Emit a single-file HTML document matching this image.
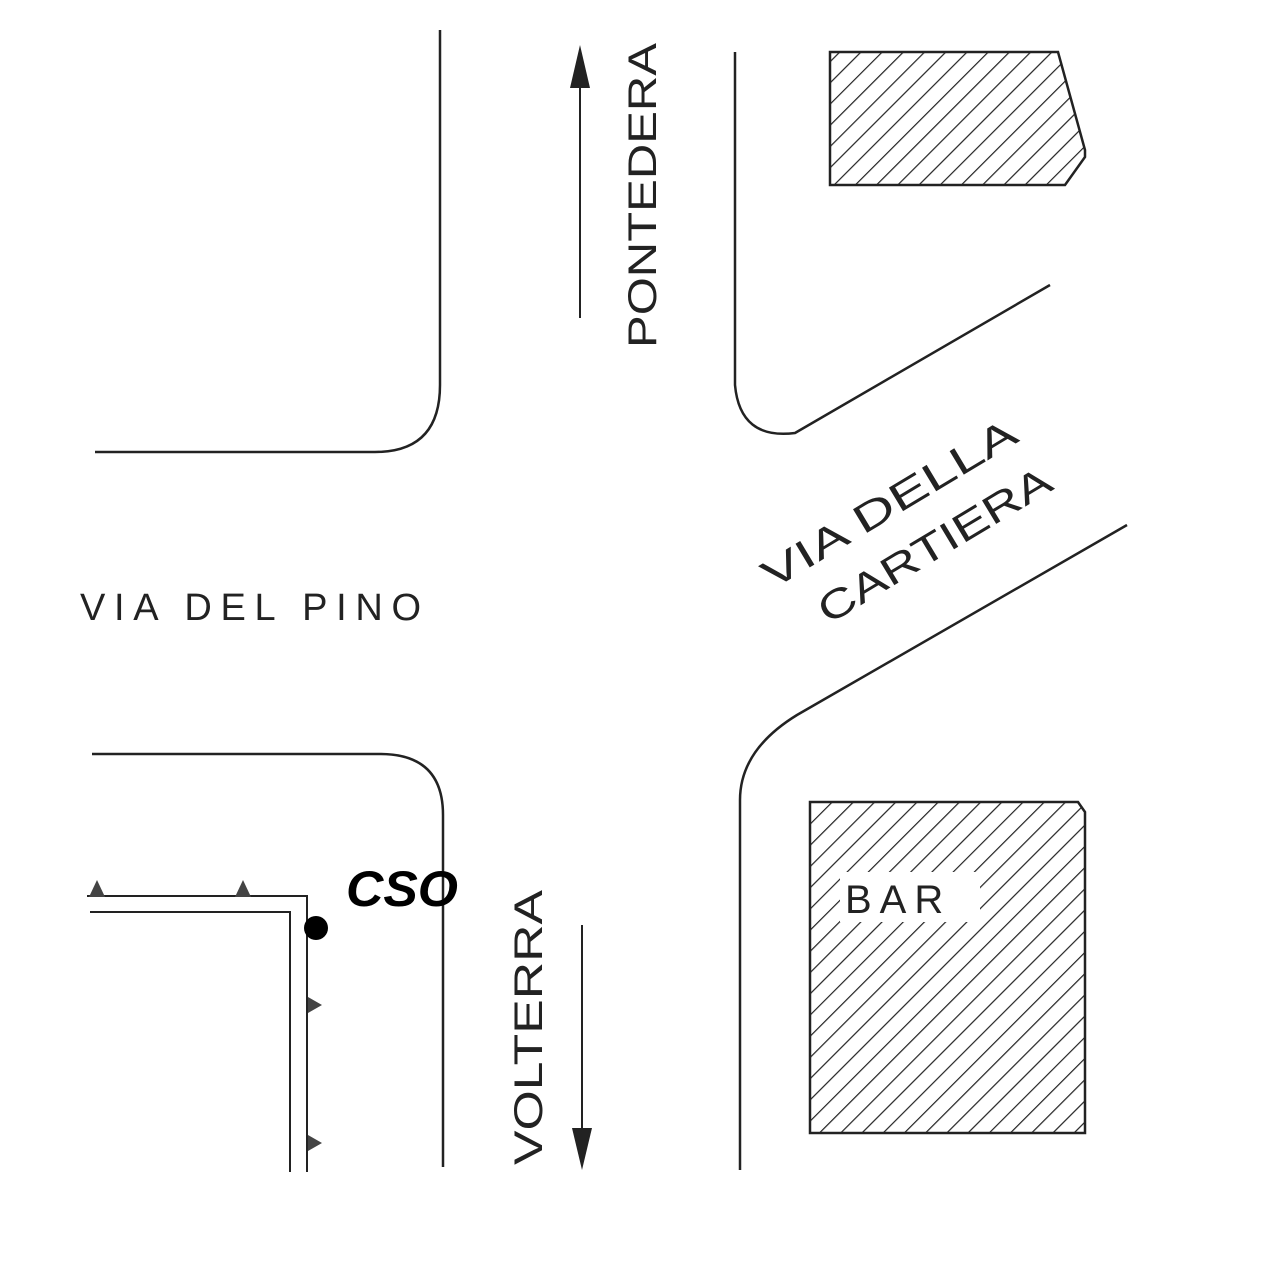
<!DOCTYPE html>
<html><head><style>
html,body{margin:0;padding:0;background:#fff;}
svg{display:block}
.h{font-family:"Liberation Sans",sans-serif;font-weight:normal;fill:#222;}
</style></head><body>
<svg width="1261" height="1262" viewBox="0 0 1261 1262">
<defs>
<pattern id="hat" width="15" height="15" patternUnits="userSpaceOnUse" patternTransform="rotate(45)">
<line x1="0" y1="0" x2="0" y2="15" stroke="#222" stroke-width="2.4"/>
</pattern>
</defs>
<g fill="none" stroke="#222" stroke-width="2.5">
<path d="M440 30 V385 Q440 452 375 452 H95"/>
<path d="M735 52 V385 Q740 440 795 433 L1050 285"/>
<path d="M1127 525 L797 715 Q740 750 740 800 V1170"/>
<path d="M92 754 H380 Q443 754 443 815 V1167"/>
<path d="M87 896 H307 V1172" stroke-width="2"/>
<path d="M90 912 H290 V1172" stroke-width="2"/>
<line x1="580" y1="318" x2="580" y2="70" stroke-width="2"/>
<line x1="582" y1="925" x2="582" y2="1145" stroke-width="2"/>
</g>
<polygon points="570,88 580,45 590,88" fill="#222"/>
<polygon points="572,1128 582,1170 592,1128" fill="#222"/>
<polygon points="830,52 1058,52 1085,150 1085,157 1065,185 830,185" fill="url(#hat)" stroke="#222" stroke-width="2.5"/>
<polygon points="810,802 1078,802 1085,812 1085,1133 810,1133" fill="url(#hat)" stroke="#222" stroke-width="2.5"/>
<rect x="840" y="872" width="140" height="50" fill="#fff"/>
<text x="845" y="913" class="h" font-size="40" letter-spacing="8">BAR</text>
<g fill="#444">
<polygon points="89,897 97,880 105,897"/>
<polygon points="235,897 243,880 251,897"/>
<polygon points="308,997 322,1005 308,1013"/>
<polygon points="308,1135 322,1143 308,1151"/>
</g>
<circle cx="316" cy="928" r="12" fill="#000"/>
<text x="346" y="906" font-family="Liberation Sans,sans-serif" font-weight="bold" font-style="italic" font-size="50" fill="#000" textLength="112" lengthAdjust="spacingAndGlyphs">CSO</text>
<text x="80" y="620" class="h" font-size="38" letter-spacing="4" textLength="345">VIA DEL PINO</text>
<text transform="translate(656,348) rotate(-90)" class="h" font-size="40" textLength="305" lengthAdjust="spacingAndGlyphs">PONTEDERA</text>
<text transform="translate(542,1165) rotate(-90)" class="h" font-size="40" textLength="275" lengthAdjust="spacingAndGlyphs">VOLTERRA</text>
<text transform="translate(772,590) rotate(-31)" class="h" font-size="40" textLength="290" lengthAdjust="spacingAndGlyphs">VIA DELLA</text>
<text transform="translate(828,625) rotate(-31)" class="h" font-size="40" textLength="265" lengthAdjust="spacingAndGlyphs">CARTIERA</text>
</svg>
</body></html>
